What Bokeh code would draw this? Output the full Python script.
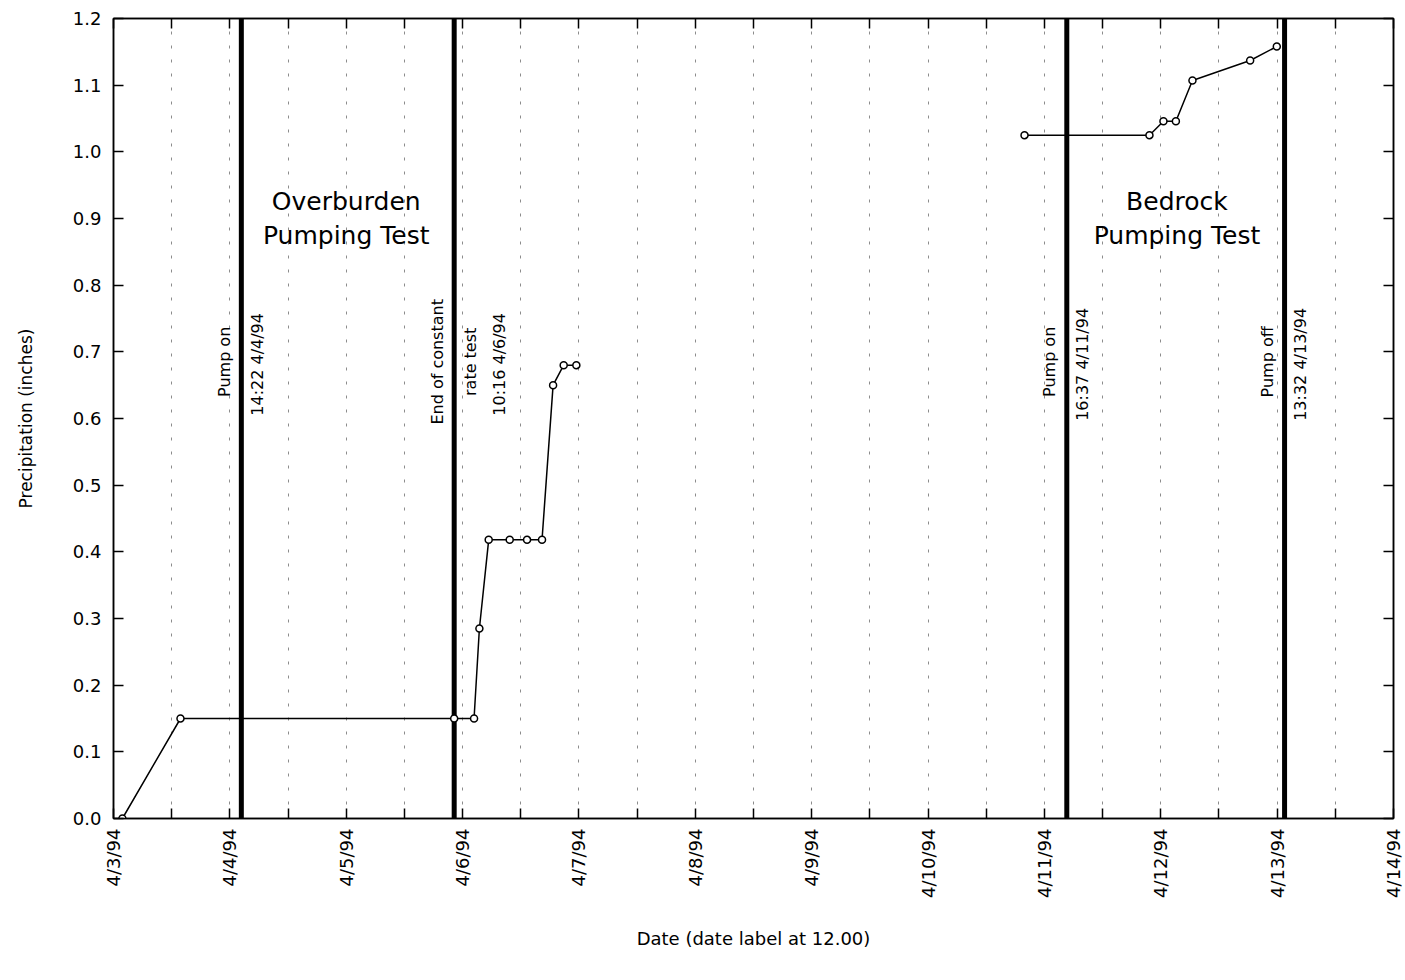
import math
import pandas as pd
from bokeh.plotting import figure
from bokeh.models import FixedTicker, DatetimeAxis, LinearAxis, Range1d, ColumnDataSource
from bokeh.core.properties import value
from bokeh.embed import file_html
from bokeh.resources import INLINE

# ---------------- data ----------------
overburden_times = ["1994-04-03 13:50", "1994-04-04 01:49", "1994-04-06 10:16", "1994-04-06 14:22",
                    "1994-04-06 15:28", "1994-04-06 17:23", "1994-04-06 21:43", "1994-04-07 01:18",
                    "1994-04-07 04:23", "1994-04-07 06:40", "1994-04-07 08:51", "1994-04-07 11:28"]
overburden_precip = [0.0, 0.15, 0.15, 0.15, 0.285, 0.418, 0.418, 0.418, 0.418, 0.65, 0.68, 0.68]

bedrock_times = ["1994-04-11 07:54", "1994-04-12 09:40", "1994-04-12 12:33", "1994-04-12 15:07",
                 "1994-04-12 18:32", "1994-04-13 06:26", "1994-04-13 11:56"]
bedrock_precip = [1.025, 1.025, 1.046, 1.046, 1.107, 1.137, 1.158]

event_times = ["1994-04-04 14:22", "1994-04-06 10:16", "1994-04-11 16:37", "1994-04-13 13:32"]
event_left_text = ["Pump on", "End of constant", "Pump on", "Pump off"]
event_right_text = ["14:22  4/4/94", "rate test", "16:37  4/11/94", "13:32  4/13/94"]
event_right2_text = ["", "10:16  4/6/94", "", ""]
event_label_y = [0.685, 0.685, 0.685, 0.685]

test_names = ["Overburden\nPumping Test", "Bedrock\nPumping Test"]
test_label_times = ["1994-04-05 12:00", "1994-04-12 15:20"]
test_label_y = [0.9, 0.9]

x_label_dates = ["1994-04-03 12:00", "1994-04-04 12:00", "1994-04-05 12:00", "1994-04-06 12:00",
                 "1994-04-07 12:00", "1994-04-08 12:00", "1994-04-09 12:00", "1994-04-10 12:00",
                 "1994-04-11 12:00", "1994-04-12 12:00", "1994-04-13 12:00", "1994-04-14 12:00"]
x_tick_labels = ["4/3/94", "4/4/94", "4/5/94", "4/6/94", "4/7/94", "4/8/94", "4/9/94",
                 "4/10/94", "4/11/94", "4/12/94", "4/13/94", "4/14/94"]
y_ticks = [0.0, 0.1, 0.2, 0.3, 0.4, 0.5, 0.6, 0.7, 0.8, 0.9, 1.0, 1.1, 1.2]
y_tick_labels = ["0.0", "0.1", "0.2", "0.3", "0.4", "0.5", "0.6", "0.7", "0.8", "0.9", "1.0", "1.1", "1.2"]

FONT = "DejaVu Sans"

def ms(s):
    return float(pd.Timestamp(s).value // 10**6)

label_ms = [ms(d) for d in x_label_dates]
half_day = 12 * 3600 * 1000.0
mid_ms = [t + half_day for t in label_ms[:-1]]
all_ticks = sorted(label_ms + mid_ms)
overrides = {t: "" for t in mid_ms}
overrides.update({t: l for t, l in zip(label_ms, x_tick_labels)})

p = figure(width=1405, height=980, x_axis_type="datetime", output_backend="svg",
           toolbar_location=None,
           x_range=Range1d(label_ms[0], label_ms[-1]), y_range=Range1d(0, 1.2),
           min_border_left=113, min_border_right=12, min_border_top=18, min_border_bottom=162)
p.background_fill_color = "white"
p.outline_line_color = "black"
p.outline_line_width = 1.5

xt = FixedTicker(ticks=all_ticks, minor_ticks=[])
yt = FixedTicker(ticks=y_ticks, minor_ticks=[])

xa = p.xaxis[0]
xa.ticker = xt
xa.major_label_overrides = overrides
xa.major_label_orientation = math.pi / 2
xa.major_label_text_font = FONT
xa.major_label_text_font_size = "18px"
xa.major_label_text_color = "black"
xa.major_label_standoff = 10
xa.major_tick_in = 10
xa.major_tick_out = 0
xa.minor_tick_line_color = None
xa.axis_line_width = 1.5
xa.major_tick_line_width = 1.5
xa.axis_label = "Date (date label at 12.00)"
xa.axis_label_text_font = FONT
xa.axis_label_text_font_size = "18px"
xa.axis_label_text_font_style = "normal"
xa.axis_label_text_color = "black"
xa.axis_label_standoff = 27

ya = p.yaxis[0]
ya.ticker = yt
ya.major_label_overrides = {t: l for t, l in zip(y_ticks, y_tick_labels)}
ya.major_label_text_font = FONT
ya.major_label_text_font_size = "18px"
ya.major_label_text_color = "black"
ya.major_label_standoff = 12
ya.major_tick_in = 10
ya.major_tick_out = 0
ya.minor_tick_line_color = None
ya.axis_line_width = 1.5
ya.major_tick_line_width = 1.5
ya.axis_label = "Precipitation (inches)"
ya.axis_label_text_font = FONT
ya.axis_label_text_font_size = "17px"
ya.axis_label_text_font_style = "normal"
ya.axis_label_text_color = "black"
ya.axis_label_standoff = 34

top = DatetimeAxis(ticker=xt, major_label_text_color=None, major_label_text_font_size="0px",
                   major_label_standoff=0, major_tick_in=10, major_tick_out=0, axis_line_width=1.5,
                   major_tick_line_width=1.5, minor_tick_line_color=None)
p.add_layout(top, "above")
right = LinearAxis(ticker=yt, major_label_text_color=None, major_label_text_font_size="0px",
                   major_label_standoff=0, major_tick_in=10, major_tick_out=0, axis_line_width=1.5,
                   major_tick_line_width=1.5, minor_tick_line_color=None)
p.add_layout(right, "right")

p.xgrid.grid_line_color = "black"
p.xgrid.grid_line_alpha = 0.45
p.xgrid.grid_line_dash = "3 11"
p.xgrid.grid_line_width = 1
p.ygrid.grid_line_color = None

# event lines
ev = ColumnDataSource(dict(x=pd.to_datetime(event_times), y0=[0.0] * 4, y1=[1.2] * 4,
                           ly=event_label_y, lt=event_left_text, rt=event_right_text,
                           rt2=event_right2_text))
p.segment(x0="x", y0="y0", x1="x", y1="y1", source=ev, line_color="black", line_width=5)
for col, off in (("lt", -17), ("rt", 16), ("rt2", 45)):
    p.text(x="x", y="ly", text=col, source=ev, angle=math.pi / 2, x_offset=off,
           text_align="center", text_baseline="middle", text_font=value(FONT),
           text_font_size="16px", text_color="black")

# test region labels
tl = ColumnDataSource(dict(x=pd.to_datetime(test_label_times), y=test_label_y, t=test_names))
p.text(x="x", y="y", text="t", source=tl, text_align="center", text_baseline="middle",
       text_font=value(FONT), text_font_size="25px", text_color="black", text_line_height=1.2)

# data series
s1 = ColumnDataSource(dict(x=pd.to_datetime(overburden_times), y=overburden_precip))
s2 = ColumnDataSource(dict(x=pd.to_datetime(bedrock_times), y=bedrock_precip))
for s in (s1, s2):
    p.line(x="x", y="y", source=s, line_color="black", line_width=1.5)
    p.scatter(x="x", y="y", source=s, marker="circle", size=7, fill_color="white",
              line_color="black", line_width=1.5)

open("out.html", "w").write(file_html(p, INLINE))
